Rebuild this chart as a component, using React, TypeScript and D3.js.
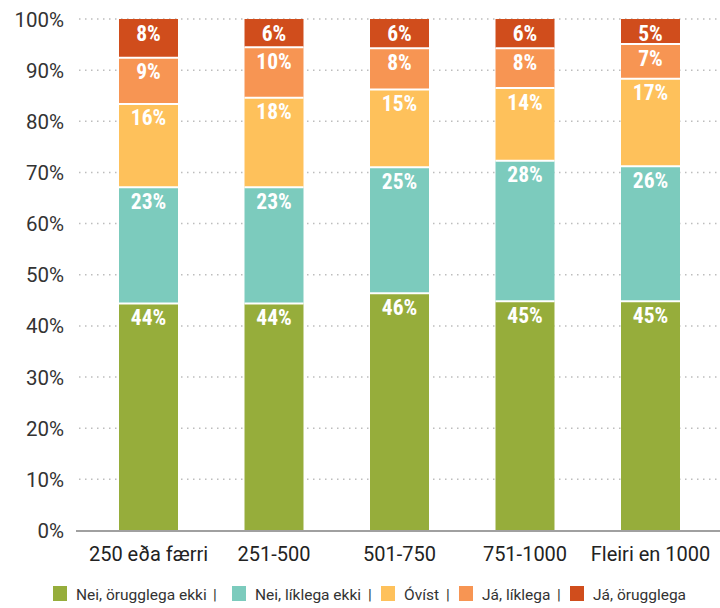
import React from "react";
import * as d3 from "d3";

const categories = ["250 eða færri", "251-500", "501-750", "751-1000", "Fleiri en 1000"];
const seriesNames = ["Nei, örugglega ekki", "Nei, líklega ekki", "Óvíst", "Já, líklega", "Já, örugglega"];
const seriesColors = ["#96ad3b", "#7ccbbd", "#fec15b", "#f79553", "#d04d1c"];

const neiOrugglega = [44.4, 44.4, 46.4, 44.8, 44.8];
const neiLiklega = [22.7, 22.7, 24.6, 27.5, 26.4];
const ovist = [16.3, 17.5, 15.2, 14.2, 17.1];
const jaLiklega = [9.0, 9.9, 8.1, 7.8, 6.8];
const jaOrugglega = [7.6, 5.5, 5.7, 5.7, 4.9];

const yTicks = [0, 10, 20, 30, 40, 50, 60, 70, 80, 90, 100];

const W = 720;
const H = 608;
const FONT = "Roboto, 'DejaVu Sans', sans-serif";
const LABEL_FONT = "'Liberation Sans Narrow', 'Roboto Condensed', Roboto, sans-serif";

export default function App() {
  const series = [neiOrugglega, neiLiklega, ovist, jaLiklega, jaOrugglega];
  const rows = categories.map((c, i) => {
    const r: any = { cat: c };
    series.forEach((s, k) => (r["s" + k] = s[i]));
    return r;
  });
  const keys = series.map((_, k) => "s" + k);
  const stacked = d3.stack().keys(keys)(rows);

  const x = d3
    .scaleBand<string>()
    .domain(categories)
    .range([85.75, 713.25])
    .paddingInner(0.53)
    .paddingOuter(0.265);
  const y = d3.scaleLinear().domain([0, 100]).range([530.5, 19]);

  const legendSq = [53, 232, 381, 459, 570];
  const legendSep = [215, 370, 448, 559];

  return (
    <svg
      width={W}
      height={H}
      style={{ position: "absolute", left: 0, top: 0, background: "#fff" }}
      fontFamily={FONT}
    >
      {yTicks
        .filter((t) => t > 0)
        .map((t) => (
          <line
            key={"g" + t}
            x1={79}
            x2={720}
            y1={y(t)}
            y2={y(t)}
            stroke="#bdbdbd"
            strokeWidth={1.5}
            strokeDasharray="1.5 4.5"
          />
        ))}
      {yTicks.map((t) => (
        <text
          key={"yl" + t}
          x={64}
          y={y(t) + 7.5}
          textAnchor="end"
          fontSize={20.5}
          fill="#333"
        >
          {t + "%"}
        </text>
      ))}
      {stacked.map((layer, k) =>
        layer.map((d, i) => {
          const cat = categories[i];
          const x0 = x(cat)!;
          const top = y(d[1]);
          const bot = y(d[0]);
          return (
            <rect
              key={"r" + k + "-" + i}
              x={x0}
              y={top}
              width={x.bandwidth()}
              height={bot - top}
              fill={seriesColors[k]}
            />
          );
        })
      )}
      {stacked.slice(1).map((layer, k) =>
        layer.map((d, i) => (
          <line
            key={"s" + k + "-" + i}
            x1={x(categories[i])!}
            x2={x(categories[i])! + x.bandwidth()}
            y1={y(d[0])}
            y2={y(d[0])}
            stroke="#fff"
            strokeWidth={2}
          />
        ))
      )}
      {stacked.map((layer, k) =>
        layer.map((d, i) => (
          <text
            key={"v" + k + "-" + i}
            x={x(categories[i])! + x.bandwidth() / 2}
            y={y(d[1]) + 21.5}
            textAnchor="middle"
            fontFamily={LABEL_FONT}
            fontSize={21.5}
            fontWeight={700}
            fill="#fff"
          >
            {Math.round(d[1] - d[0]) + "%"}
          </text>
        ))
      )}
      <line x1={76} x2={720} y1={531} y2={531} stroke="#a0a0a0" strokeWidth={2} />
      {categories.map((c) => (
        <text
          key={"xl" + c}
          x={x(c)! + x.bandwidth() / 2}
          y={561}
          textAnchor="middle"
          fontSize={20}
          fill="#222"
        >
          {c}
        </text>
      ))}
      {seriesNames.map((n, k) => (
        <g key={"lg" + k}>
          <rect x={legendSq[k]} y={586} width={14} height={15} fill={seriesColors[k]} />
          <text x={legendSq[k] + 23} y={600} fontSize={15.5} fill="#333">
            {n}
          </text>
        </g>
      ))}
      {legendSep.map((sx, i) => (
        <text key={"sep" + i} x={sx} y={600} fontSize={15.5} fill="#333" textAnchor="middle">
          |
        </text>
      ))}
    </svg>
  );
}
